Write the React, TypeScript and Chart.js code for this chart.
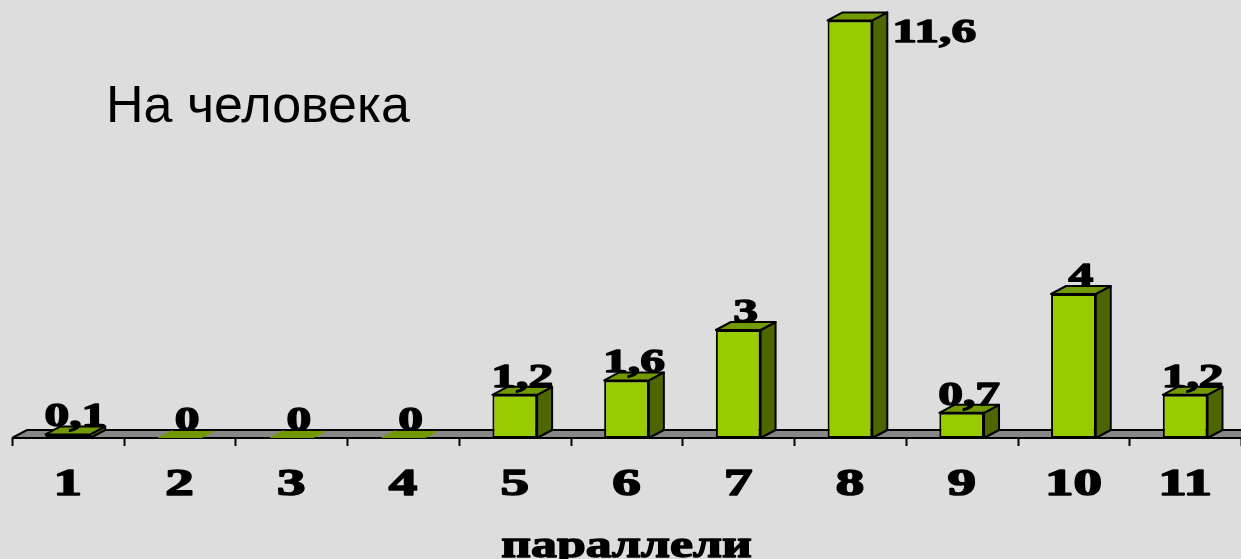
import React, { useEffect, useRef } from "react";
import { Chart, registerables } from "chart.js";

Chart.register(...registerables);

const categories = ["1", "2", "3", "4", "5", "6", "7", "8", "9", "10", "11"];
const values = [0.1, 0, 0, 0, 1.2, 1.6, 3, 11.6, 0.7, 4, 1.2];
const chartTitle = "На человека";
const xAxisTitle = "параллели";

const W = 1241;
const H = 559;
const BG = "#DDDDDD";
const FRONT = "#99CC00";
const TOP = "#729A00";
const SIDE = "#4D6600";
const FLOOR = "#878787";
const DX = 15;
const DY = 8;

function stretchText(ctx: CanvasRenderingContext2D, text: string, x: number, y: number, sx: number, heavy = 0) {
  ctx.save();
  ctx.translate(x, y);
  ctx.scale(sx, 1);
  ctx.fillText(text, 0, 0);
  if (heavy > 0) {
    ctx.lineWidth = heavy;
    ctx.strokeStyle = "#000";
    ctx.lineJoin = "round";
    ctx.strokeText(text, 0, 0);
  }
  ctx.restore();
}

const deco = {
  id: "deco3d",
  beforeDraw(chart: any) {
    const ctx = chart.ctx as CanvasRenderingContext2D;
    ctx.save();
    ctx.fillStyle = BG;
    ctx.fillRect(0, 0, chart.width, chart.height);
    ctx.restore();
  },
  beforeDatasetsDraw(chart: any) {
    const ctx = chart.ctx as CanvasRenderingContext2D;
    const { left, right, bottom } = chart.chartArea;
    const xs = chart.scales.x;
    ctx.save();
    ctx.beginPath();
    ctx.moveTo(left, bottom);
    ctx.lineTo(left + DX, bottom - DY);
    ctx.lineTo(right + DX, bottom - DY);
    ctx.lineTo(right + DX, bottom);
    ctx.closePath();
    ctx.fillStyle = FLOOR;
    ctx.fill();
    ctx.strokeStyle = "#000";
    ctx.lineWidth = 2;
    ctx.beginPath();
    ctx.moveTo(left, bottom);
    ctx.lineTo(left + DX, bottom - DY);
    ctx.lineTo(right + DX, bottom - DY);
    ctx.stroke();
    ctx.beginPath();
    ctx.moveTo(left, bottom);
    ctx.lineTo(right, bottom);
    ctx.stroke();
    const cw = (right - left) / categories.length;
    for (let i = 0; i <= categories.length; i++) {
      const x = i < categories.length ? xs.getPixelForValue(i) - cw / 2 : xs.getPixelForValue(i - 1) + cw / 2;
      ctx.beginPath();
      ctx.moveTo(Math.round(x) + 0.5, bottom);
      ctx.lineTo(Math.round(x) + 0.5, bottom + 8);
      ctx.stroke();
    }
    ctx.restore();
  },
  afterDatasetsDraw(chart: any) {
    const ctx = chart.ctx as CanvasRenderingContext2D;
    const meta = chart.getDatasetMeta(0);
    const area = chart.chartArea;
    ctx.save();
    ctx.lineWidth = 2;
    ctx.strokeStyle = "#000";
    ctx.lineJoin = "round";
    meta.data.forEach((el: any) => {
      const { x, y, base, width } = el.getProps(["x", "y", "base", "width"], true);
      const l = x - width / 2;
      const r = x + width / 2;
      if (base - y > 0.5) {
        ctx.beginPath();
        ctx.moveTo(r, y);
        ctx.lineTo(r + DX, y - DY);
        ctx.lineTo(r + DX, base - DY);
        ctx.lineTo(r, base);
        ctx.closePath();
        ctx.fillStyle = SIDE;
        ctx.fill();
        ctx.stroke();
      }
      ctx.beginPath();
      ctx.moveTo(l, y);
      ctx.lineTo(l + DX, y - DY);
      ctx.lineTo(r + DX, y - DY);
      ctx.lineTo(r, y);
      ctx.closePath();
      ctx.fillStyle = TOP;
      ctx.fill();
      if (base - y > 0.5) ctx.stroke();
      else {
        ctx.beginPath();
        ctx.moveTo(l + DX, y - DY);
        ctx.lineTo(r + DX, y - DY);
        ctx.stroke();
      }
    });
    ctx.fillStyle = "#000";
    ctx.font = "bold 33px 'Liberation Serif', 'Times New Roman', serif";
    ctx.textBaseline = "alphabetic";
    meta.data.forEach((el: any, i: number) => {
      const { x, y, width } = el.getProps(["x", "y", "width"], true);
      const txt = String(values[i]).replace(".", ",");
      if (y - 8 - 24 < area.top) {
        ctx.textAlign = "left";
        stretchText(ctx, txt, x + width / 2 + DX + 5, y + 22, 1.5, 1.4);
      } else {
        ctx.textAlign = "center";
        stretchText(ctx, txt, x + DX / 2, y - 8, 1.5, 1.4);
      }
    });
    ctx.font = "bold 38px 'Liberation Serif', 'Times New Roman', serif";
    ctx.textAlign = "center";
    const xs = chart.scales.x;
    categories.forEach((c, i) => {
      stretchText(ctx, c, xs.getPixelForValue(i), 495, 1.5, 1.6);
    });
    ctx.font = "bold 38px 'Liberation Serif', 'Times New Roman', serif";
    stretchText(ctx, xAxisTitle, (area.left + area.right) / 2, 557, 1.36, 1.4);
    ctx.font = "52px 'Liberation Sans', Arial, sans-serif";
    ctx.textAlign = "left";
    ctx.fillText(chartTitle, 106, 122);
    ctx.restore();
  },
};

export default function App() {
  const ref = useRef<HTMLCanvasElement | null>(null);
  useEffect(() => {
    document.body.style.margin = "0";
    document.body.style.background = BG;
    if (!ref.current) return;
    const chart = new Chart(ref.current, {
      type: "bar",
      data: {
        labels: categories,
        datasets: [
          {
            data: values,
            backgroundColor: FRONT,
            borderColor: "#000",
            borderWidth: 2,
            borderSkipped: false,
            barPercentage: 0.4,
            categoryPercentage: 1,
          },
        ],
      },
      options: {
        responsive: false,
        animation: false,
        devicePixelRatio: 1,
        layout: { padding: { left: 12, right: 0, top: 6, bottom: H - 438 } },
        plugins: { legend: { display: false }, title: { display: false }, tooltip: { enabled: false } },
        scales: {
          x: { type: "category", offset: true, display: false, grid: { display: false } },
          y: { min: 0, max: 12, display: false, grid: { display: false } },
        },
      },
      plugins: [deco],
    });
    return () => chart.destroy();
  }, []);
  return (
    <div style={{ position: "fixed", left: 0, top: 0, width: W, height: H, background: BG }}>
      <canvas ref={ref} width={W} height={H} style={{ display: "block", width: W, height: H }} />
    </div>
  );
}
